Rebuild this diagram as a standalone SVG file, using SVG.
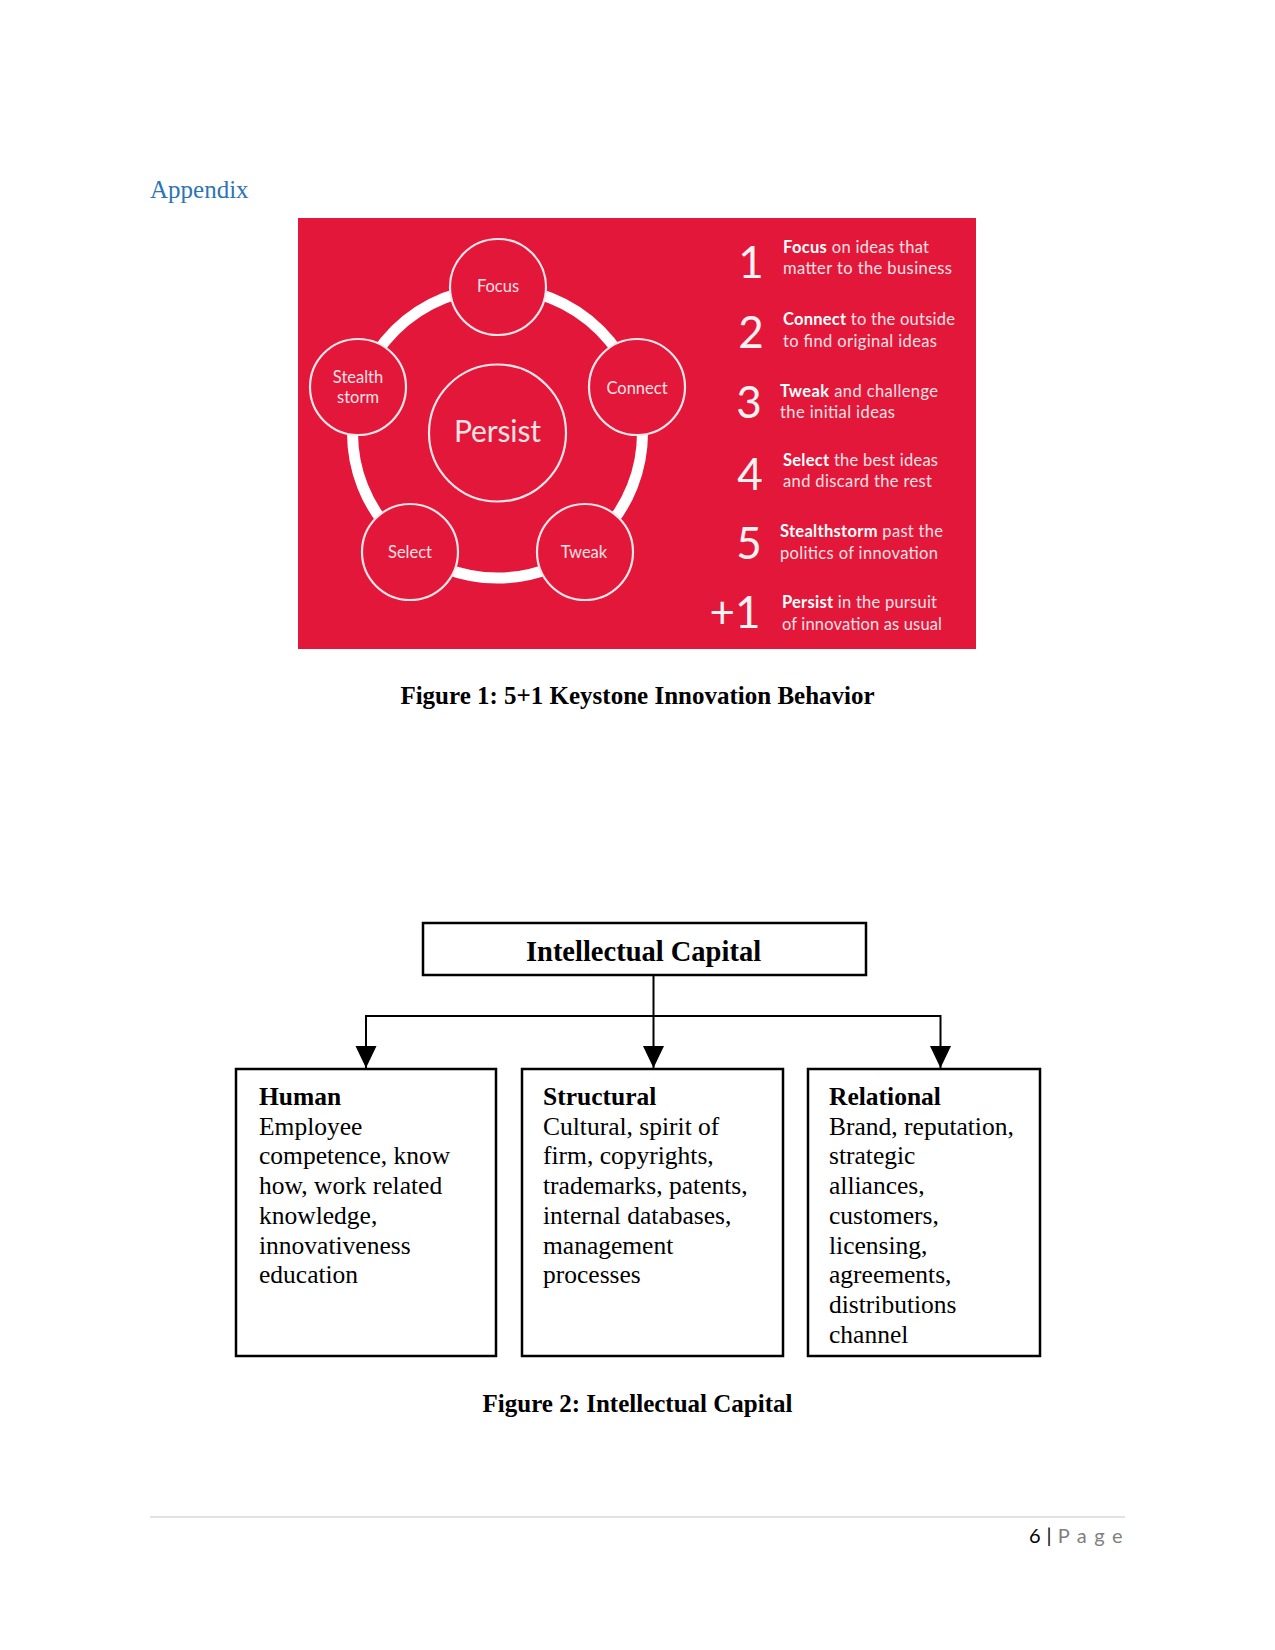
<svg xmlns="http://www.w3.org/2000/svg" width="1275" height="1650" viewBox="0 0 1275 1650">
<defs>
<style>
.serif{font-family:"Liberation Serif","Times New Roman",serif;fill:#000}
.cap{font-size:25px;font-weight:bold;text-anchor:middle}
.red{font-family:Lato,"Noto Sans",sans-serif;fill:#f9e1e4}
.lbl{font-size:16.5px;text-anchor:middle}
.num{font-size:44px;fill:#fdf1f2;text-anchor:middle}
.li{font-size:16.5px}
.li tspan.b{font-weight:bold;fill:#fff}
.ring{fill:none;stroke:#fff;stroke-width:11}
.node{fill:#e2173a;stroke:#fbe6e9;stroke-width:2.2}
.box{fill:#fff;stroke:#000;stroke-width:2.5}
.body{font-size:25.5px}
.conn{fill:none;stroke:#000;stroke-width:2}
</style>
<marker id="ah" markerUnits="userSpaceOnUse" markerWidth="22" markerHeight="23" refX="23" refY="11" orient="auto" viewBox="0 0 23 22">
<path d="M0,0 L23,11 L0,22 z" fill="#000"/>
</marker>
</defs>
<rect width="1275" height="1650" fill="#fff"/>

<text class="serif" x="150" y="198" font-size="25" style="fill:#2E74B5">Appendix</text>

<g id="figure1">
<rect x="298" y="218" width="678" height="431" fill="#e2173a"/>
<circle class="ring" cx="497.5" cy="433" r="145"/>
<g id="persist"><circle class="node" cx="497.5" cy="433" r="68.5"/><text class="red" x="454" y="442" font-size="30" textLength="87">Persist</text></g>
<g id="focus"><circle class="node" cx="498" cy="287" r="48"/><text class="red lbl" x="498" y="292">Focus</text></g>
<g id="connect"><circle class="node" cx="637" cy="387" r="48"/><text class="red lbl" x="637" y="394">Connect</text></g>
<g id="tweak"><circle class="node" cx="585" cy="552" r="48"/><text class="red lbl" x="584" y="558">Tweak</text></g>
<g id="select"><circle class="node" cx="410" cy="552" r="48"/><text class="red lbl" x="410" y="558">Select</text></g>
<g id="stealth"><circle class="node" cx="358" cy="387" r="48"/><text class="red lbl" x="358" y="383">Stealth</text><text class="red lbl" x="358" y="403">storm</text></g>

<g id="list">
<text class="red num" x="751" y="278">1</text>
<text class="red li" x="783" y="253" textLength="146"><tspan class="b">Focus</tspan> on ideas that</text>
<text class="red li" x="783" y="274" textLength="169">matter to the business</text>
<text class="red num" x="751" y="348">2</text>
<text class="red li" x="783" y="325" textLength="172"><tspan class="b">Connect</tspan> to the outside</text>
<text class="red li" x="783" y="347" textLength="154">to find original ideas</text>
<text class="red num" x="749" y="418">3</text>
<text class="red li" x="780" y="397" textLength="158"><tspan class="b">Tweak</tspan> and challenge</text>
<text class="red li" x="780" y="418" textLength="115">the initial ideas</text>
<text class="red num" x="750" y="490">4</text>
<text class="red li" x="783" y="466" textLength="155"><tspan class="b">Select</tspan> the best ideas</text>
<text class="red li" x="783" y="487" textLength="149">and discard the rest</text>
<text class="red num" x="749" y="559">5</text>
<text class="red li" x="780" y="537" textLength="163"><tspan class="b">Stealthstorm</tspan> past the</text>
<text class="red li" x="780" y="559" textLength="158">politics of innovation</text>
<text class="red num" x="735" y="628">+1</text>
<text class="red li" x="782" y="608" textLength="155"><tspan class="b">Persist</tspan> in the pursuit</text>
<text class="red li" x="782" y="630" textLength="160">of innovation as usual</text>
</g>
</g>

<text class="serif cap" x="637.5" y="704">Figure 1: 5+1 Keystone Innovation Behavior</text>

<g id="connectors">
<path class="conn" d="M653.5 975 V1068" marker-end="url(#ah)"/>
<path class="conn" d="M366 1016 H940.5"/>
<path class="conn" d="M366 1015 V1068" marker-end="url(#ah)"/>
<path class="conn" d="M940.5 1015 V1068" marker-end="url(#ah)"/>
</g>

<g id="intellectual-capital">
<rect class="box" x="423" y="923" width="443" height="52"/>
<text class="serif" x="643.5" y="961" font-size="28.5" font-weight="bold" text-anchor="middle">Intellectual Capital</text>
</g>

<g id="human">
<rect class="box" x="236" y="1069" width="260" height="287"/>
<text class="serif body" x="259" y="1105"><tspan font-weight="bold">Human</tspan><tspan x="259" dy="29.7">Employee</tspan><tspan x="259" dy="29.7">competence, know</tspan><tspan x="259" dy="29.7">how, work related</tspan><tspan x="259" dy="29.7">knowledge,</tspan><tspan x="259" dy="29.7">innovativeness</tspan><tspan x="259" dy="29.7">education</tspan></text>
</g>

<g id="structural">
<rect class="box" x="522" y="1069" width="261" height="287"/>
<text class="serif body" x="543" y="1105"><tspan font-weight="bold">Structural</tspan><tspan x="543" dy="29.7">Cultural, spirit of</tspan><tspan x="543" dy="29.7">firm, copyrights,</tspan><tspan x="543" dy="29.7">trademarks, patents,</tspan><tspan x="543" dy="29.7">internal databases,</tspan><tspan x="543" dy="29.7">management</tspan><tspan x="543" dy="29.7">processes</tspan></text>
</g>

<g id="relational">
<rect class="box" x="808" y="1069" width="232" height="287"/>
<text class="serif body" x="829" y="1105"><tspan font-weight="bold">Relational</tspan><tspan x="829" dy="29.7">Brand, reputation,</tspan><tspan x="829" dy="29.7">strategic</tspan><tspan x="829" dy="29.7">alliances,</tspan><tspan x="829" dy="29.7">customers,</tspan><tspan x="829" dy="29.7">licensing,</tspan><tspan x="829" dy="29.7">agreements,</tspan><tspan x="829" dy="29.7">distributions</tspan><tspan x="829" dy="29.7">channel</tspan></text>
</g>

<text class="serif cap" x="637.5" y="1412">Figure 2: Intellectual Capital</text>

<line x1="150" y1="1517" x2="1125" y2="1517" stroke="#d9d9d9" stroke-width="1.5"/>
<text x="1029" y="1543" font-family="Lato,'Noto Sans',sans-serif" font-size="20" fill="#000">6<tspan dx="6">|</tspan><tspan dx="6" fill="#7f7f7f" letter-spacing="7.5">Page</tspan></text>
</svg>
